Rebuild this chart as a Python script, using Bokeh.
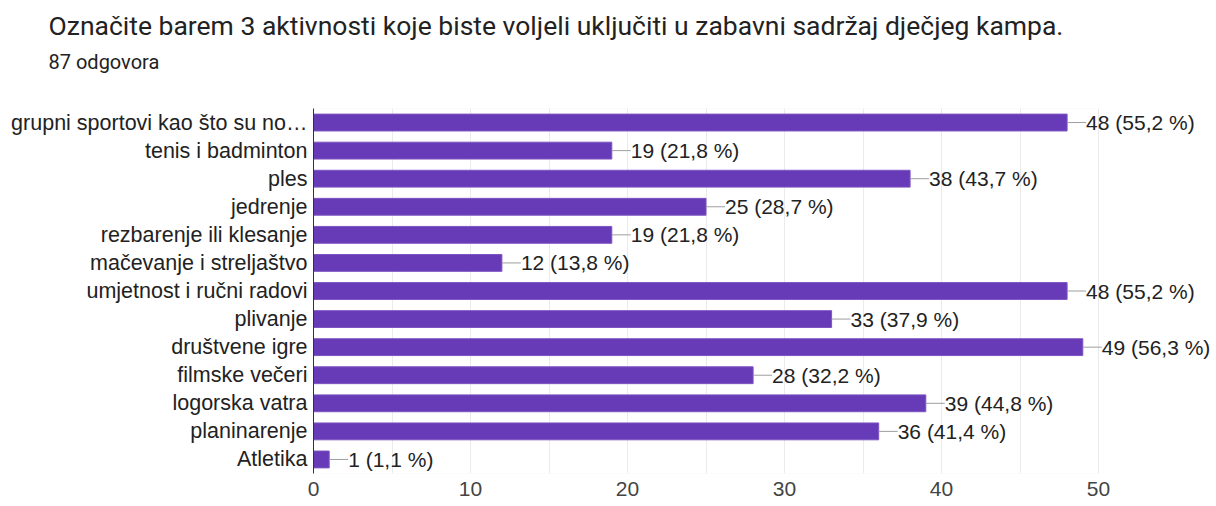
from bokeh.plotting import figure
from bokeh.models import ColumnDataSource, FactorRange, Range1d, FixedTicker, Title, LabelSet, BoxAnnotation
from bokeh.core.properties import value
from bokeh.embed import file_html
from bokeh.resources import INLINE

title_text = "Označite barem 3 aktivnosti koje biste voljeli uključiti u zabavni sadržaj dječjeg kampa."
subtitle_text = "87 odgovora"

categories = [
    "grupni sportovi kao što su no…",
    "tenis i badminton",
    "ples",
    "jedrenje",
    "rezbarenje ili klesanje",
    "mačevanje i streljaštvo",
    "umjetnost i ručni radovi",
    "plivanje",
    "društvene igre",
    "filmske večeri",
    "logorska vatra",
    "planinarenje",
    "Atletika",
]
counts = [48, 19, 38, 25, 19, 12, 48, 33, 49, 28, 39, 36, 1]
percents = [55.2, 21.8, 43.7, 28.7, 21.8, 13.8, 55.2, 37.9, 56.3, 32.2, 44.8, 41.4, 1.1]
x_ticks = [0, 10, 20, 30, 40, 50]
grid_ticks = [0, 5, 10, 15, 20, 25, 30, 35, 40, 45, 50]

labels = [f"{c} ({str(p).replace('.', ',')} %)" for c, p in zip(counts, percents)]
src = ColumnDataSource(dict(cat=categories, count=counts, label=labels))

LABEL_FONT = "Liberation Sans"
TITLE_FONT = "Roboto"
TEXT_COLOR = "#222222"

# layout: the axis box (0..50) is 785px wide; the frame extends right so labels are not clipped
W, H, LEFT = 1216, 506, 313
AXIS_PX = 785
x_max = x_ticks[-1]
x_end = x_max * (W - LEFT) / AXIS_PX

p = figure(
    width=W, height=H,
    y_range=FactorRange(factors=list(reversed(categories)), range_padding=0),
    x_range=Range1d(0, x_end),
    output_backend="svg", toolbar_location=None, title=None,
    min_border_left=LEFT, min_border_right=0, min_border_top=108, min_border_bottom=33,
)
p.outline_line_color = None

# spacer panel between the subtitle and the plot area
p.add_layout(Title(text=" ", text_font=TITLE_FONT, text_font_size="10px",
                   vertical_align="middle", standoff=21), "above")
p.add_layout(Title(text=subtitle_text, text_font=TITLE_FONT, text_font_size="20px",
                   text_font_style="normal", text_color=TEXT_COLOR, align="left",
                   vertical_align="middle", offset=-265, standoff=0), "above")
p.add_layout(Title(text=title_text, text_font=TITLE_FONT, text_font_size="26.5px",
                   text_font_style="normal", text_color=TEXT_COLOR, align="left",
                   vertical_align="bottom", offset=-265, standoff=15), "above")

p.add_layout(BoxAnnotation(left=0, right=x_max, fill_alpha=0, line_color="#e6e6e6",
                           line_width=1, level="underlay"))

p.hbar(y="cat", right="count", left=0, height=0.6, source=src,
       fill_color="#673ab7", line_color="#7c55c2", line_width=1)
p.ray(x="count", y="cat", length=19, length_units="screen", angle=0, source=src,
      line_color="#9e9e9e", line_width=1)
p.add_layout(LabelSet(x="count", y="cat", text="label", x_offset=19, source=src,
                      text_baseline="middle", text_align="left",
                      text_font=value(LABEL_FONT), text_font_size="21px",
                      text_color=TEXT_COLOR))

p.xgrid.ticker = FixedTicker(ticks=grid_ticks)
p.xgrid.grid_line_color = "#ebebeb"
p.ygrid.grid_line_color = None

p.xaxis.ticker = FixedTicker(ticks=x_ticks)
p.xaxis.axis_line_color = None
p.xaxis.major_tick_line_color = None
p.xaxis.minor_tick_line_color = None
p.xaxis.major_tick_out = 0
p.xaxis.major_tick_in = 0
p.xaxis.major_label_standoff = 8
p.xaxis.major_label_text_font = LABEL_FONT
p.xaxis.major_label_text_font_size = "21px"
p.xaxis.major_label_text_color = "#444444"

p.yaxis.axis_line_color = "#333333"
p.yaxis.axis_line_width = 1
p.yaxis.major_tick_line_color = None
p.yaxis.minor_tick_line_color = None
p.yaxis.major_tick_out = 0
p.yaxis.major_tick_in = 0
p.yaxis.major_label_standoff = 6
p.yaxis.major_label_text_font = LABEL_FONT
p.yaxis.major_label_text_font_size = "21.5px"
p.yaxis.major_label_text_color = TEXT_COLOR

open("out.html", "w").write(file_html(p, INLINE))
